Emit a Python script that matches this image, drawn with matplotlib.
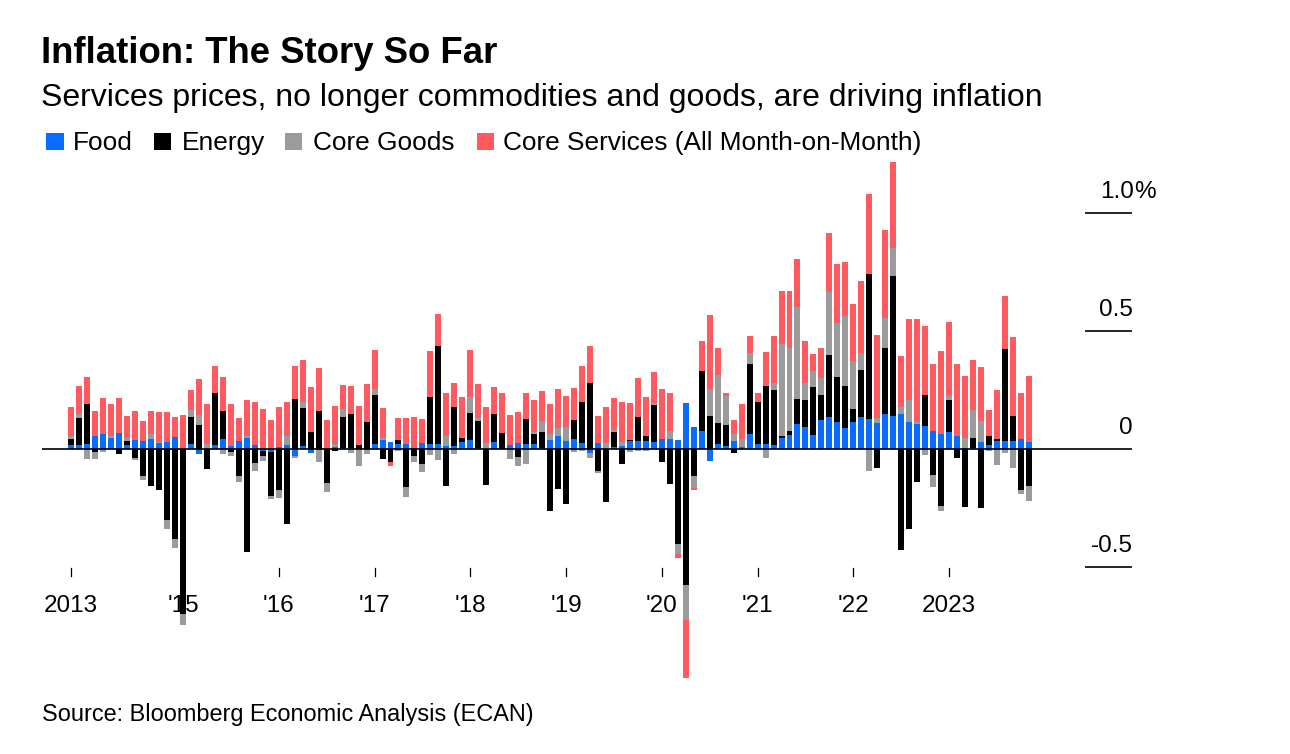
import numpy as np
import pandas as pd
import matplotlib
matplotlib.use("Agg")
import matplotlib.pyplot as plt
from matplotlib.patches import Rectangle

plt.rcParams['font.family'] = ['Liberation Sans', 'DejaVu Sans']

# ---------------- data (contributions to monthly CPI, %) ----------------
months = pd.period_range('2013-11', '2023-11', freq='M')

food = [0.017, 0.017, 0.021, 0.056, 0.064, 0.048, 0.069, 0.017, 0.037, 0.034,
        0.041, 0.025, 0.031, 0.049, 0.0, 0.020, -0.023, 0.0, 0.017, 0.042,
        0.014, 0.034, 0.045, 0.017, -0.008, -0.014, 0.008, 0.017, -0.028, 0.014,
        -0.017, -0.006, 0.0, 0.008, 0.004, 0.004, 0.0, 0.0, 0.020, 0.037,
        0.028, 0.020, 0.023, 0.005, 0.025, 0.020, 0.023, 0.011, 0.011, 0.030,
        0.037, 0.005, 0.0, 0.028, 0.0, 0.017, 0.025, 0.020, 0.020, 0.005,
        0.037, 0.054, 0.034, 0.041, 0.024, -0.017, 0.025, 0.0, 0.007, 0.014,
        0.032, 0.032, 0.032, 0.030, 0.041, 0.041, 0.038, 0.195, 0.093, 0.076,
        -0.051, 0.020, 0.011, 0.034, 0.008, 0.062, 0.023, 0.020, 0.016, 0.045,
        0.058, 0.105, 0.092, 0.061, 0.124, 0.134, 0.113, 0.090, 0.113, 0.136,
        0.126, 0.110, 0.150, 0.138, 0.147, 0.114, 0.107, 0.096, 0.078, 0.065,
        0.071, 0.055, 0.003, 0.004, 0.028, 0.016, 0.034, 0.035, 0.032, 0.041,
        0.031]

energy = [0.025, 0.116, 0.169, -0.011, 0.0, 0.0, -0.023, 0.017, -0.037, -0.116,
          -0.155, -0.172, -0.299, -0.381, -0.698, 0.116, 0.102, -0.085, 0.220, 0.119,
          -0.011, -0.116, -0.435, -0.059, -0.020, -0.186, -0.175, -0.316, 0.213, 0.161,
          0.072, 0.161, -0.144, -0.008, 0.133, 0.143, 0.016, 0.114, 0.207, -0.042,
          -0.054, 0.017, -0.161, -0.031, -0.065, 0.200, 0.412, -0.155, 0.167, 0.018,
          0.116, 0.112, -0.153, 0.121, 0.068, 0.0, -0.034, 0.105, 0.044, 0.068,
          -0.263, -0.169, -0.232, 0.082, 0.176, 0.280, -0.093, -0.226, 0.066, -0.062,
          0.008, 0.103, 0.025, 0.157, -0.056, -0.147, -0.401, -0.578, -0.116, 0.254,
          0.141, 0.090, 0.090, -0.017, 0.0, 0.299, 0.175, 0.249, 0.232, 0.010,
          0.020, 0.107, 0.117, 0.202, 0.106, 0.264, 0.192, 0.178, 0.056, 0.199,
          0.616, -0.079, 0.277, 0.596, -0.429, -0.338, -0.140, 0.134, -0.112, -0.240,
          0.138, -0.037, -0.244, 0.041, -0.249, 0.041, 0.007, 0.388, 0.109, -0.174,
          -0.158]

core_goods = [0.014, 0.017, -0.042, -0.031, -0.011, 0.006, 0.0, 0.013, -0.010, -0.017,
              0.023, 0.006, -0.042, -0.037, -0.048, 0.028, 0.040, 0.020, 0.0, -0.020,
              -0.017, -0.023, 0.011, -0.034, -0.023, -0.011, -0.031, 0.040, -0.011, 0.025,
              0.0, -0.051, -0.037, 0.014, 0.034, -0.017, -0.073, -0.020, 0.028, 0.010,
              0.0, -0.008, -0.042, -0.023, -0.031, -0.025, -0.045, 0.044, -0.023, 0.0,
              0.068, 0.016, 0.025, 0.0, 0.0, -0.042, -0.040, -0.062, 0.010, 0.045,
              0.028, 0.035, 0.058, -0.014, -0.008, -0.023, -0.008, 0.025, 0.006, 0.014,
              -0.014, -0.008, -0.008, 0.006, 0.0, 0.037, -0.042, -0.148, -0.051, 0.0,
              0.113, 0.203, 0.124, 0.031, 0.034, 0.045, 0.0, -0.040, 0.030, 0.390,
              0.352, 0.390, 0.069, 0.069, 0.069, 0.268, 0.230, 0.294, 0.205, 0.071,
              -0.093, 0.020, 0.130, 0.119, 0.031, 0.095, 0.007, -0.025, -0.049, -0.024,
              0.014, 0.0, 0.042, 0.121, 0.090, -0.008, -0.068, -0.017, -0.079, -0.018,
              -0.062]

core_services = [0.124, 0.119, 0.113, 0.103, 0.154, 0.136, 0.148, 0.092, 0.126, 0.083,
                 0.099, 0.124, 0.127, 0.086, 0.144, 0.085, 0.153, 0.172, 0.113, 0.144,
                 0.175, 0.099, 0.150, 0.181, 0.169, 0.124, 0.170, 0.144, 0.140, 0.178,
                 0.191, 0.182, 0.124, 0.161, 0.102, 0.121, 0.167, 0.162, 0.165, 0.127,
                 -0.020, 0.096, 0.110, 0.130, 0.100, 0.194, 0.137, 0.184, 0.102, 0.172,
                 0.198, 0.141, 0.155, 0.112, 0.169, 0.128, 0.130, 0.113, 0.134, 0.126,
                 0.127, 0.164, 0.134, 0.134, 0.150, 0.158, 0.116, 0.155, 0.136, 0.170,
                 0.154, 0.164, 0.165, 0.133, 0.212, 0.161, -0.017, -0.243, -0.006, 0.127,
                 0.314, 0.113, 0.013, 0.056, 0.150, 0.071, 0.038, 0.143, 0.199, 0.225,
                 0.240, 0.201, 0.178, 0.069, 0.127, 0.249, 0.249, 0.230, 0.242, 0.305,
                 0.339, 0.355, 0.370, 0.362, 0.218, 0.340, 0.438, 0.290, 0.284, 0.350,
                 0.316, 0.306, 0.264, 0.209, 0.230, 0.107, 0.209, 0.226, 0.335, 0.198,
                 0.277]

series_names = ['Food', 'Energy', 'Core Goods', 'Core Services (All Month-on-Month)']
series_colors = ['#0a6cff', '#000000', '#9b9b9b', '#ff5a5f']

tick_months = ['2013-11', '2015-01', '2016-01', '2017-01', '2018-01', '2019-01',
               '2020-01', '2021-01', '2022-01', '2023-01']
tick_labels = ['2013', "'15", "'16", "'17", "'18", "'19", "'20", "'21", "'22", '2023']

y_ticks = [1.0, 0.5, 0.0, -0.5]
y_tick_labels = ['1.0%', '0.5', '0', '-0.5']

# ---------------- layout (pixel geometry) ----------------
W, H = 1290, 754
X0, DX = 71.3, 7.98      # pixel x of first bar, pixels per month
Y0, DY = 449.0, 236.0    # pixel y of zero, pixels per 1 percentage point

fig = plt.figure(figsize=(W / 100, H / 100), dpi=100)
fig.patch.set_facecolor('white')
ax = fig.add_axes([0, 0, 1, 1])
ax.set_xlim(-X0 / DX, (W - X0) / DX)
ax.set_ylim((Y0 - H) / DY, Y0 / DY)
ax.axis('off')


def xd(px):
    return (px - X0) / DX


def yd(py):
    return (Y0 - py) / DY


def fx(px):
    return px / W


def fy(py):
    return 1 - py / H


# ---------------- stacked diverging bars ----------------
n = len(months)
x = np.arange(n)
pos_base = np.zeros(n)
neg_base = np.zeros(n)
for vals, col in zip([food, energy, core_goods, core_services], series_colors):
    v = np.asarray(vals, dtype=float)
    bottom = np.where(v >= 0, pos_base, neg_base)
    ax.bar(x, v, width=0.75, bottom=bottom, color=col, linewidth=0, zorder=2)
    pos_base += np.clip(v, 0, None)
    neg_base += np.clip(v, None, 0)

# zero line and short right-hand grid marks
ax.plot([xd(42), xd(1132)], [0, 0], color='black', lw=1.2, zorder=4,
        solid_capstyle='butt')
for yv, lab in zip(y_ticks, y_tick_labels):
    if yv != 0:
        ax.plot([xd(1085), xd(1132)], [yv, yv], color='black', lw=1.2,
                zorder=4, solid_capstyle='butt')
    if lab.endswith('%'):
        ax.text(xd(1134), yv + 15 / DY, lab[:-1], ha='right', va='baseline',
                fontsize=17.5, color='black')
        ax.text(xd(1134), yv + 15 / DY, '%', ha='left', va='baseline',
                fontsize=17.5, color='black')
    else:
        ax.text(xd(1133), yv + 15 / DY, lab, ha='right', va='baseline',
                fontsize=17.5, color='black')

# x ticks
month_list = [str(m) for m in months]
for tm, tl in zip(tick_months, tick_labels):
    i = month_list.index(tm)
    ax.plot([i, i], [yd(568), yd(576)], color='black', lw=0.9, zorder=1)
    ax.text(i, yd(612), tl, ha='center', va='baseline', fontsize=17.5,
            color='black', zorder=1)

# ---------------- titles ----------------
fig.text(fx(41), fy(63), 'Inflation: The Story So Far', fontsize=26.3,
         fontweight='bold', ha='left', va='baseline')
fig.text(fx(41), fy(106),
         'Services prices, no longer commodities and goods, are driving inflation',
         fontsize=23, ha='left', va='baseline')

# ---------------- legend ----------------
sq_x = [46.3, 154.0, 285.0, 476.7]
tx_x = [73.3, 181.7, 313.0, 503.0]
for name, col, sx, tx in zip(series_names, series_colors, sq_x, tx_x):
    fig.patches.append(Rectangle((fx(sx), fy(150)), 17.4 / W, 17.4 / H,
                                 transform=fig.transFigure, facecolor=col,
                                 edgecolor='none'))
    fig.text(fx(tx), fy(150), name, fontsize=18.9, ha='left', va='baseline')

# ---------------- source ----------------
fig.text(fx(42), fy(721), 'Source: Bloomberg Economic Analysis (ECAN)',
         fontsize=16.9, ha='left', va='baseline')

fig.savefig('out.png', dpi=100, facecolor='white')
